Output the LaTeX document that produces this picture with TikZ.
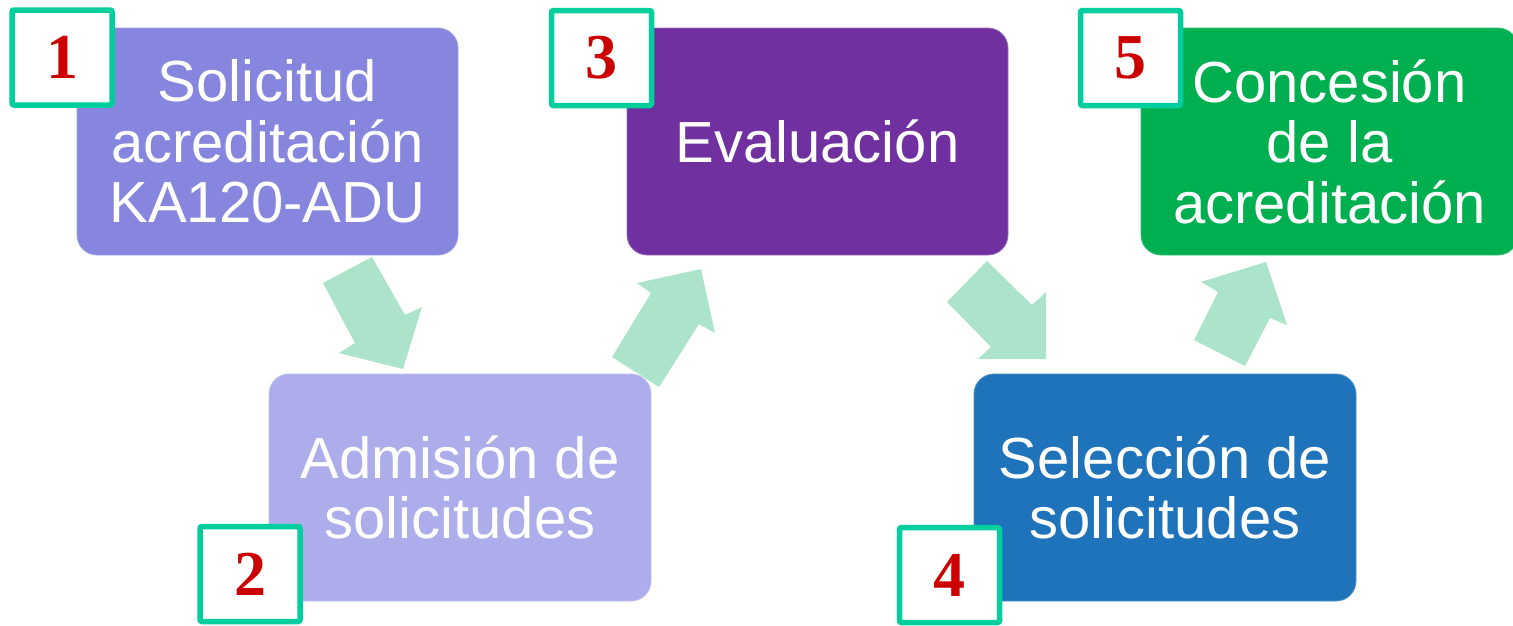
\documentclass[tikz,border=0pt]{standalone}
\usepackage{fontspec}
\setmainfont{Liberation Sans}
\newfontfamily\numfont{Liberation Serif}
\definecolor{cone}{RGB}{134,134,222}
\definecolor{ctwo}{RGB}{173,173,235}
\definecolor{cthree}{RGB}{112,48,160}
\definecolor{cfour}{RGB}{30,115,186}
\definecolor{cfive}{RGB}{0,176,80}
\definecolor{arrowc}{RGB}{171,227,203}
\definecolor{tealc}{RGB}{0,206,156}
\definecolor{redc}{RGB}{204,0,0}
\begin{document}
\begin{tikzpicture}[x=1pt,y=-1pt,
  stagebox/.style={rounded corners=20pt, line width=0.8pt, text=white, align=center,
    font=\fontsize{58}{60.5}\selectfont, minimum height=227pt, inner sep=0pt},
  numbox/.style={fill=white, draw=tealc, line width=5.5pt, rounded corners=2pt,
    minimum width=100pt, minimum height=95pt, inner sep=0pt, text=redc,
    font=\numfont\bfseries\fontsize{64}{64}\selectfont},
  blockarrow/.style={fill=arrowc, draw=none}]
\useasboundingbox (0,0) rectangle (1513,625);
\clip (0,0) rectangle (1513,625);
% block arrows
\fill[blockarrow] (323,283) -- (372,257) -- (405,315) -- (422,307) -- (403,369) -- (339,353) -- (355,343) -- cycle;
\fill[blockarrow] (612,357) -- (651,293) -- (637,283) -- (701,269) -- (715,333) -- (699,324) -- (659,387) -- cycle;
\fill[blockarrow] (947,302) -- (987,261) -- (1032,305) -- (1046,292) -- (1046,359) -- (978,359) -- (991,347) -- cycle;
\fill[blockarrow] (1194,340) -- (1218,292) -- (1201,282) -- (1266,262) -- (1287,325) -- (1270,318) -- (1245,366) -- cycle;
% stage boxes
\node[stagebox, fill=cone, draw=cone!80!white, minimum width=381pt] (b1) at (267.5,141.5) {Solicitud\\acreditación\\KA120-ADU};
\node[stagebox, fill=ctwo, draw=ctwo!80!white, minimum width=382pt] (b2) at (460,487.5) {Admisión de\\solicitudes};
\node[stagebox, fill=cthree, draw=cthree!70!white, minimum width=381pt] (b3) at (817.5,141.5) {Evaluación};
\node[stagebox, fill=cfour, draw=cfour!80!white, minimum width=382pt] (b4) at (1165,487.5) {Selección de\\solicitudes};
\node[stagebox, fill=cfive, draw=cfive!80!white, minimum width=377pt] (b5) at (1329.5,141.5) {Concesión\\de la\\acreditación};
% number boxes
\node[numbox] (n1) at (62,57.5) {1};
\node[numbox] (n2) at (250,574) {2};
\node[numbox] (n3) at (601.5,58) {3};
\node[numbox] (n4) at (949.5,575) {4};
\node[numbox] (n5) at (1130.5,58) {5};
\end{tikzpicture}
\end{document}
